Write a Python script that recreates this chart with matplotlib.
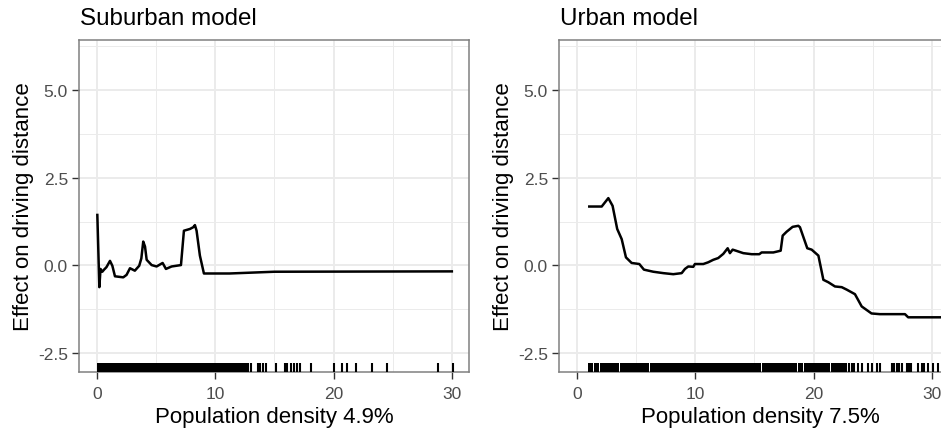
import matplotlib
matplotlib.use("Agg")
import matplotlib.pyplot as plt

plt.rcParams['font.family'] = ['Liberation Sans', 'DejaVu Sans']

# ---------------- data ----------------
titles = ["Suburban model", "Urban model"]
xlabels = ["Population density 4.9%", "Population density 7.5%"]
ylabel = "Effect on driving distance"
xticks = [0, 10, 20, 30]
yticks = [-2.5, 0.0, 2.5, 5.0]
ytick_labels = ["-2.5", "0.0", "2.5", "5.0"]

x_sub = [0.03, 0.2, 0.3, 0.45, 0.6, 0.8, 1.1, 1.3, 1.52, 2.22, 2.5, 2.79, 3.2,
         3.57, 3.75, 3.91, 4.06, 4.2, 4.62, 5.04, 5.55, 5.83, 6.31, 7.1, 7.35,
         7.86, 8.14, 8.28, 8.42, 8.7, 9.04, 11.2, 15.0, 30.0]
y_sub = [1.44, -0.62, -0.1, -0.18, -0.12, -0.05, 0.13, -0.01, -0.31, -0.34, -0.27,
         -0.08, -0.15, -0.01, 0.2, 0.68, 0.54, 0.16, 0.01, -0.03, 0.07, -0.1,
         -0.03, 0.01, 0.99, 1.04, 1.09, 1.15, 0.99, 0.28, -0.23, -0.23, -0.18, -0.17]

x_urb = [1.04, 2.09, 2.65, 3.01, 3.4, 3.78, 4.14, 4.62, 5.27, 5.66, 6.45, 7.3,
         8.14, 8.85, 9.13, 9.41, 9.83, 9.97, 10.68, 11.1, 11.52, 11.94, 12.37,
         12.74, 12.93, 13.16, 13.44, 14.06, 14.77, 15.41, 15.61, 16.6, 17.22,
         17.39, 17.72, 18.23, 18.71, 18.85, 19.47, 19.84, 20.41, 20.83, 21.25,
         21.81, 22.38, 22.8, 23.5, 24.07, 24.9, 25.6, 27.73, 28.0, 31.8]
y_urb = [1.68, 1.68, 1.92, 1.70, 1.04, 0.75, 0.23, 0.07, 0.04, -0.12, -0.18, -0.22,
         -0.25, -0.22, -0.1, -0.03, -0.04, 0.04, 0.04, 0.09, 0.16, 0.21, 0.33,
         0.49, 0.35, 0.45, 0.42, 0.35, 0.32, 0.32, 0.37, 0.37, 0.42,
         0.85, 0.96, 1.10, 1.13, 1.09, 0.49, 0.45, 0.28, -0.41, -0.48,
         -0.60, -0.62, -0.69, -0.82, -1.17, -1.37, -1.39, -1.39, -1.48, -1.48]

# rug: dense bands (start, end) and individual observations
rug_bands_sub = [(0.0, 12.65)]
rug_sub = [12.79, 12.99, 13.58, 13.78, 14.0, 14.26, 15.13, 15.87, 16.09, 16.37,
           16.65, 16.88, 17.16, 18.06, 20.03, 20.74, 21.1, 21.86, 23.27, 24.54,
           28.85, 30.12]
rug_bands_urb = [(0.93, 1.33), (1.43, 1.9), (1.98, 3.54), (3.62, 5.29), (5.37, 6.07),
                 (6.15, 15.57), (15.65, 18.58), (18.66, 19.09), (19.17, 21.4),
                 (21.48, 22.85)]
rug_urb = [23.02, 23.22, 23.42, 23.73, 24.06, 24.63, 24.91, 25.33, 25.61, 26.6,
           26.8, 27.02, 27.25, 27.44, 27.87, 28.09, 28.2, 28.85, 29.13, 29.33,
           29.7, 30.06, 30.55]

# ---------------- layout ----------------
W, H = 941, 431
fig = plt.figure(figsize=(W / 100, H / 100), dpi=100)

def px_ax(l, t, r, b):
    return [l / W, 1 - b / H, (r - l) / W, (b - t) / H]

ax1 = fig.add_axes(px_ax(79, 41, 469, 373))
ax2 = fig.add_axes(px_ax(559, 41, 962, 373))

panels = [
    (ax1, x_sub, y_sub, rug_bands_sub, rug_sub, (-1.52, 31.45)),
    (ax2, x_urb, y_urb, rug_bands_urb, rug_urb, (-1.52, 32.55)),
]

grid_c = "#EBEBEB"
for i, (ax, xs, ys, bands, rug, xl) in enumerate(panels):
    ax.set_xlim(*xl)
    ax.set_ylim(-3.04, 6.43)
    ax.set_facecolor("white")
    # grid
    for v in [5, 15, 25]:
        ax.axvline(v, color=grid_c, lw=0.7, zorder=0)
    for v in [-1.25, 1.25, 3.75, 6.25]:
        ax.axhline(v, color=grid_c, lw=0.7, zorder=0)
    for v in xticks:
        ax.axvline(v, color=grid_c, lw=1.4, zorder=0)
    for v in yticks:
        ax.axhline(v, color=grid_c, lw=1.4, zorder=0)
    # curve
    ax.plot(xs, ys, color="black", lw=1.8, zorder=3, solid_joinstyle="round")
    # rug
    tr = ax.get_xaxis_transform()
    for a, b in bands:
        ax.fill_between([a, b], 0, 0.028, transform=tr, color="black", lw=0, zorder=3)
    ax.vlines(rug, 0, 0.028, transform=tr, color="black", lw=1.5, zorder=3)

    ax.set_xticks(xticks)
    ax.set_xticklabels([str(t) for t in xticks])
    ax.set_yticks(yticks)
    ax.set_yticklabels(ytick_labels)
    ax.tick_params(axis="both", length=5, width=1.0, color="#333333",
                   labelcolor="#4D4D4D", labelsize=12.5)
    ax.tick_params(axis="x", pad=5)
    ax.tick_params(axis="y", pad=3)
    for s in ax.spines.values():
        s.set_color("#808080")
        s.set_linewidth(1.1)

    ax.set_xlabel(xlabels[i], fontsize=16, color="black", labelpad=4)
    ax.set_ylabel(ylabel, fontsize=16, color="black", labelpad=3)

fig.text(80 / W, 1 - 25 / H, titles[0], fontsize=17.4, va="baseline", ha="left")
fig.text(560 / W, 1 - 25 / H, titles[1], fontsize=17.4, va="baseline", ha="left")

fig.savefig("out.png", dpi=100, facecolor="white")
